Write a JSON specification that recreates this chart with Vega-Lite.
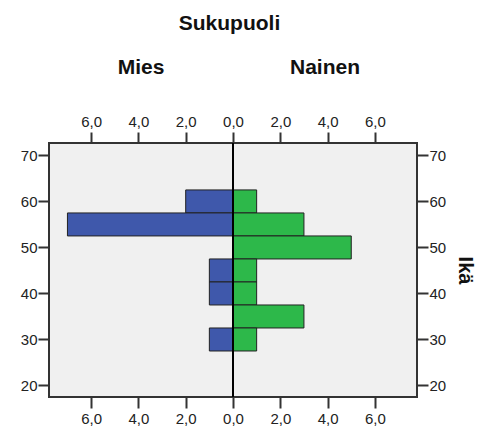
{
  "$schema": "https://vega.github.io/schema/vega-lite/v6.json",
  "padding": {"left": 19, "top": 13, "right": 5, "bottom": 5},
  "spacing": 0,
  "bounds": "flush",
  "title": {"text": "Sukupuoli", "font": "Liberation Sans", "fontSize": 21, "fontWeight": "bold", "color": "#111", "anchor": "middle", "offset": 22, "dx": -18},
  "config": {
    "view": {"fill": "#F0F0F0", "stroke": "#333", "strokeWidth": 2},
    "axis": {"labelFont": "Liberation Sans", "labelFontSize": 15, "labelColor": "#222", "tickColor": "#333", "tickSize": 11, "tickWidth": 2, "domain": false, "grid": false, "labelPadding": 3, "labelFlush": false, "titleFont": "Liberation Sans"},
    "axisY": {"labelPadding": 1},
    "title": {"font": "Liberation Sans", "fontSize": 21, "fontWeight": "bold", "color": "#111"}
  },
  "datasets": {
    "ika": [
      {"sukupuoli": "Mies", "ika_alku": 57.5, "ika_loppu": 62.5, "lukumaara": 2},
      {"sukupuoli": "Mies", "ika_alku": 52.5, "ika_loppu": 57.5, "lukumaara": 7},
      {"sukupuoli": "Mies", "ika_alku": 42.5, "ika_loppu": 47.5, "lukumaara": 1},
      {"sukupuoli": "Mies", "ika_alku": 37.5, "ika_loppu": 42.5, "lukumaara": 1},
      {"sukupuoli": "Mies", "ika_alku": 27.5, "ika_loppu": 32.5, "lukumaara": 1},
      {"sukupuoli": "Nainen", "ika_alku": 57.5, "ika_loppu": 62.5, "lukumaara": 1},
      {"sukupuoli": "Nainen", "ika_alku": 52.5, "ika_loppu": 57.5, "lukumaara": 3},
      {"sukupuoli": "Nainen", "ika_alku": 47.5, "ika_loppu": 52.5, "lukumaara": 5},
      {"sukupuoli": "Nainen", "ika_alku": 42.5, "ika_loppu": 47.5, "lukumaara": 1},
      {"sukupuoli": "Nainen", "ika_alku": 37.5, "ika_loppu": 42.5, "lukumaara": 1},
      {"sukupuoli": "Nainen", "ika_alku": 32.5, "ika_loppu": 37.5, "lukumaara": 3},
      {"sukupuoli": "Nainen", "ika_alku": 27.5, "ika_loppu": 32.5, "lukumaara": 1}
    ]
  },
  "hconcat": [
    {
      "width": 184,
      "height": 254,
      "title": {"text": "Mies", "offset": 36},
      "data": {"name": "ika"},
      "transform": [{"filter": "datum.sukupuoli === 'Mies'"}],
      "layer": [
        {
          "mark": {"type": "rect", "fill": "#3F58AB", "stroke": "#222", "strokeWidth": 1},
          "encoding": {
            "x": {"field": "lukumaara", "type": "quantitative", "scale": {"domain": [0, 7.78], "reverse": true, "nice": false, "zero": false}, "axis": {"orient": "bottom", "title": null, "values": [0, 2, 4, 6], "labelExpr": "replace(format(datum.value, '.1f'), '.', ',')"}},
            "x2": {"datum": 0},
            "y": {"field": "ika_alku", "type": "quantitative", "scale": {"domain": [17.5, 72.7], "nice": false, "zero": false}, "axis": {"orient": "left", "title": null, "values": [20, 30, 40, 50, 60, 70]}},
            "y2": {"field": "ika_loppu"}
          }
        },
        {
          "mark": {"type": "rule", "color": "#000", "strokeWidth": 2},
          "encoding": {
            "x": {"datum": 0, "type": "quantitative", "axis": {"orient": "top", "title": null, "values": [0, 2, 4, 6], "labelExpr": "replace(format(datum.value, '.1f'), '.', ',')"}}
          }
        }
      ],
      "resolve": {"axis": {"x": "independent"}}
    },
    {
      "width": 184,
      "height": 254,
      "title": {"text": "Nainen", "offset": 36},
      "data": {"name": "ika"},
      "transform": [{"filter": "datum.sukupuoli === 'Nainen'"}],
      "layer": [
        {
          "mark": {"type": "rect", "fill": "#2DB84A", "stroke": "#222", "strokeWidth": 1},
          "encoding": {
            "x": {"field": "lukumaara", "type": "quantitative", "scale": {"domain": [0, 7.78], "nice": false, "zero": false}, "axis": {"orient": "bottom", "title": null, "values": [2, 4, 6], "labelExpr": "replace(format(datum.value, '.1f'), '.', ',')"}},
            "x2": {"datum": 0},
            "y": {"field": "ika_alku", "type": "quantitative", "scale": {"domain": [17.5, 72.7], "nice": false, "zero": false}, "axis": {"orient": "right", "title": "Ikä", "titleAngle": 90, "titleFontSize": 20, "titleFontWeight": "bold", "titleColor": "#111", "titlePadding": 9, "values": [20, 30, 40, 50, 60, 70]}},
            "y2": {"field": "ika_loppu"}
          }
        },
        {
          "mark": {"type": "rule", "color": "#000", "strokeWidth": 2},
          "encoding": {
            "x": {"datum": 0, "type": "quantitative", "axis": {"orient": "top", "title": null, "values": [2, 4, 6], "labelExpr": "replace(format(datum.value, '.1f'), '.', ',')"}}
          }
        }
      ],
      "resolve": {"axis": {"x": "independent"}}
    }
  ]
}
